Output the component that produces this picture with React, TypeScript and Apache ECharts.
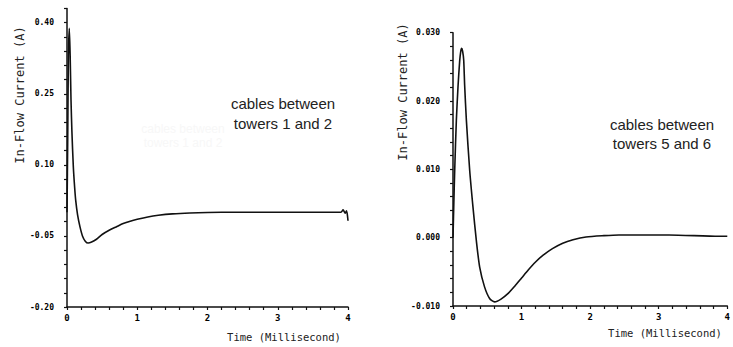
import React, { useEffect, useRef } from "react";
import * as echarts from "echarts";

// Left panel: cables between towers 1 and 2 (time ms, current A)
const leftTime = [0, 0.01, 0.02, 0.033, 0.045, 0.057, 0.07, 0.09, 0.11, 0.124, 0.15, 0.185, 0.22, 0.26, 0.3, 0.35, 0.42, 0.5, 0.6, 0.7, 0.8, 0.9, 1.0, 1.15, 1.3, 1.5, 1.75, 2.0, 2.4, 2.8, 3.2, 3.6, 3.9, 3.93, 3.96, 3.98, 4.0];
const leftCurrent = [0.0, 0.15, 0.33, 0.388, 0.33, 0.237, 0.17, 0.096, 0.05, 0.025, -0.005, -0.031, -0.05, -0.061, -0.065, -0.063, -0.057, -0.047, -0.038, -0.031, -0.024, -0.019, -0.015, -0.01, -0.0065, -0.0035, -0.0015, -0.0005, 0.0, 0.0, 0.0, 0.0, 0.0, 0.005, -0.002, 0.003, -0.018];

// Right panel: cables between towers 5 and 6
const rightTime = [0, 0.012, 0.025, 0.049, 0.073, 0.097, 0.112, 0.126, 0.14, 0.156, 0.17, 0.195, 0.243, 0.291, 0.34, 0.389, 0.46, 0.534, 0.607, 0.7, 0.8, 0.9, 1.0, 1.1, 1.2, 1.31, 1.45, 1.6, 1.75, 1.94, 2.2, 2.42, 3.15, 3.88, 4.0];
const rightCurrent = [0.0, 0.005, 0.0099, 0.0172, 0.0221, 0.0258, 0.0272, 0.0277, 0.0273, 0.026, 0.0223, 0.0172, 0.0099, 0.0045, -0.0004, -0.0043, -0.0072, -0.0089, -0.0094, -0.009, -0.0082, -0.0071, -0.0059, -0.0047, -0.0036, -0.0026, -0.0016, -0.0008, -0.0003, 0.0001, 0.0003, 0.0004, 0.0004, 0.0002, 0.0002];

const leftAnnotation = ["cables between", "towers 1 and 2"];
const rightAnnotation = ["cables between", "towers 5 and 6"];
const xName = "Time (Millisecond)";
const yName = "In-Flow Current (A)";

const monoFont = "'DejaVu Sans Mono', 'Liberation Mono', monospace";
const ink = "#111";

function pairs(xs: number[], ys: number[]) {
  return xs.map((x, i) => [x, ys[i]]);
}

function xAxisCfg(gridIndex: number) {
  return {
    type: "value",
    gridIndex,
    min: 0,
    max: 4,
    interval: 0.2,
    splitLine: { show: false },
    axisLine: { show: true, onZero: false, lineStyle: { color: ink, width: 1.5 } },
    axisTick: { show: true, length: 3, lineStyle: { color: ink, width: 1.2 } },
    axisLabel: {
      margin: 6,
      color: "#000",
      fontFamily: monoFont,
      fontWeight: "bold",
      fontSize: 9,
      showMaxLabel: true,
      formatter: (v: number) => (Math.abs(v - Math.round(v)) < 1e-6 ? String(Math.round(v)) : ""),
    },
  };
}

function yAxisCfg(gridIndex: number, min: number, max: number, interval: number, major: number, digits: number) {
  return {
    type: "value",
    gridIndex,
    min,
    max,
    interval,
    splitLine: { show: false },
    axisLine: { show: true, onZero: false, lineStyle: { color: ink, width: 1.5 } },
    axisTick: { show: true, length: 3, lineStyle: { color: ink, width: 1.2 } },
    axisLabel: {
      margin: 13,
      color: "#000",
      fontFamily: monoFont,
      fontWeight: "bold",
      fontSize: 8,
      formatter: (v: number) => {
        const k = (v - min) / major;
        return Math.abs(k - Math.round(k)) < 1e-6 ? v.toFixed(digits) : "";
      },
    },
  };
}

export default function App() {
  const ref = useRef<HTMLDivElement>(null);
  useEffect(() => {
    if (!ref.current) return;
    const chart = echarts.init(ref.current, null, { renderer: "svg" });
    const annotStyle = {
      fontFamily: "'Liberation Sans', Arial, sans-serif",
      fontSize: 15,
      fill: "#222",
      align: "center",
      verticalAlign: "middle",
      lineHeight: 20,
    };
    const lineSeries = {
      type: "line",
      smooth: 0.25,
      showSymbol: false,
      lineStyle: { color: ink, width: 1.6 },
    };
    chart.setOption({
      animation: false,
      backgroundColor: "#fff",
      grid: [
        { left: 67, right: 385, top: 8.5, bottom: 40 },
        { left: 453, right: 5, top: 32.7, bottom: 41 },
      ],
      xAxis: [xAxisCfg(0), xAxisCfg(1)],
      yAxis: [
        yAxisCfg(0, -0.2, 0.43, 0.03, 0.15, 2),
        yAxisCfg(1, -0.01, 0.03, 0.002, 0.01, 3),
      ],
      series: [
        { ...lineSeries, xAxisIndex: 0, yAxisIndex: 0, data: pairs(leftTime, leftCurrent) },
        { ...lineSeries, xAxisIndex: 1, yAxisIndex: 1, data: pairs(rightTime, rightCurrent) },
      ],
      graphic: [
        {
          type: "text",
          x: 20,
          y: 95,
          rotation: Math.PI / 2,
          style: { text: yName, fontFamily: monoFont, fontSize: 12, fill: "#222", align: "center", verticalAlign: "middle" },
        },
        {
          type: "text",
          x: 403,
          y: 92,
          rotation: Math.PI / 2,
          style: { text: yName, fontFamily: monoFont, fontSize: 12, fill: "#222", align: "center", verticalAlign: "middle" },
        },
        {
          type: "text",
          x: 284,
          y: 337,
          style: { text: xName, fontFamily: monoFont, fontSize: 10.5, fill: "#222", align: "center", verticalAlign: "middle" },
        },
        {
          type: "text",
          x: 665,
          y: 333,
          style: { text: xName, fontFamily: monoFont, fontSize: 10.5, fill: "#222", align: "center", verticalAlign: "middle" },
        },
        {
          type: "text",
          x: 183,
          y: 136,
          style: { text: leftAnnotation.join("\n"), fontFamily: "'Liberation Sans', Arial, sans-serif", fontSize: 12, fill: "#f7f7f7", align: "center", verticalAlign: "middle", lineHeight: 14 },
        },
        {
          type: "text",
          x: 283,
          y: 113,
          style: { ...annotStyle, text: leftAnnotation.join("\n") },
        },
        {
          type: "text",
          x: 662,
          y: 134,
          style: { ...annotStyle, text: rightAnnotation.join("\n"), lineHeight: 19 },
        },
      ],
    });
    return () => chart.dispose();
  }, []);
  return <div ref={ref} style={{ width: 733, height: 347, position: "absolute", left: 0, top: 0 }} />;
}
